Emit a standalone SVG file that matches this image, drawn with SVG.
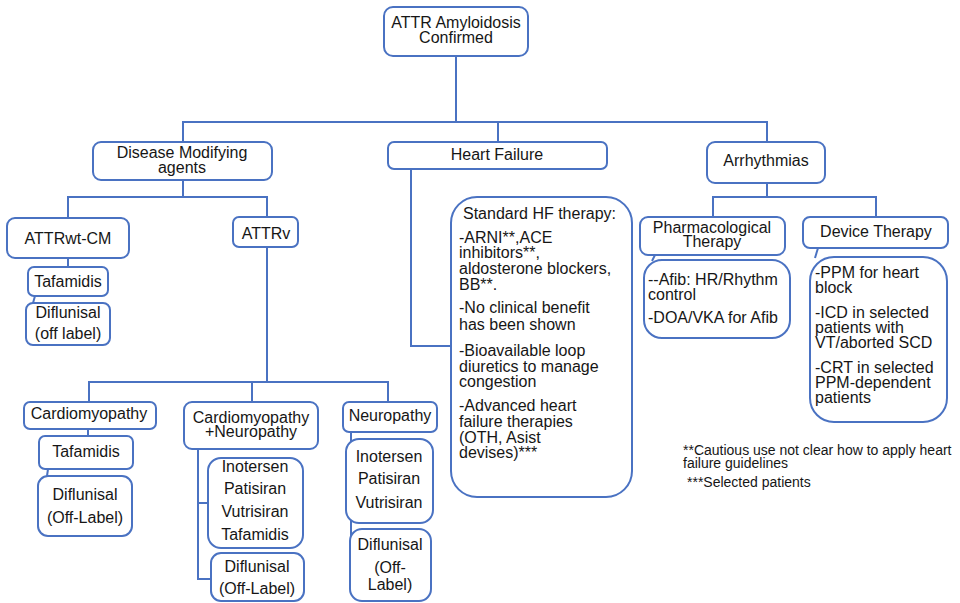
<svg xmlns="http://www.w3.org/2000/svg" width="960" height="603" viewBox="0 0 960 603">
  <style>
    .box { fill: #ffffff; stroke: #4a72c2; stroke-width: 2; }
    .link { fill: none; stroke: #4a72c2; stroke-width: 2; }
    text { font-family: "Liberation Sans", Arial, sans-serif; font-size: 16px; fill: #161616; }
    .c { text-anchor: middle; }
    .note { font-size: 14px; }
  </style>
  <rect width="960" height="603" fill="#ffffff"/>

  <!-- connectors -->
  <g id="connectors">
    <polyline class="link" points="456,56 456,122"/>
    <polyline class="link" points="183,142 183,122 767,122 767,142"/>
    <line class="link" x1="498" y1="122" x2="498" y2="142"/>
    <!-- disease modifying branch -->
    <line class="link" x1="183" y1="180" x2="183" y2="197"/>
    <polyline class="link" points="68,218 68,197 267,197 267,217"/>
    <line class="link" x1="68" y1="258" x2="68" y2="267"/>
    <line class="link" x1="35" y1="296" x2="33" y2="303"/>
    <!-- ATTRv branch -->
    <line class="link" x1="267" y1="247" x2="267" y2="382"/>
    <polyline class="link" points="89,402 89,382 388,382 388,402"/>
    <line class="link" x1="252" y1="382" x2="252" y2="402"/>
    <line class="link" x1="88" y1="429" x2="88" y2="436"/>
    <line class="link" x1="48" y1="469" x2="47" y2="476"/>
    <polyline class="link" points="198,449 198,579 212,579"/>
    <line class="link" x1="198" y1="503" x2="209" y2="503"/>
    <line class="link" x1="351" y1="431" x2="351" y2="565"/>
    <!-- heart failure branch -->
    <polyline class="link" points="411,169 411,346 452,346"/>
    <!-- arrhythmia branch -->
    <line class="link" x1="767" y1="183" x2="767" y2="197"/>
    <polyline class="link" points="713,217 713,197 876,197 876,217"/>
    <line class="link" x1="655" y1="255" x2="652" y2="261"/>
    <line class="link" x1="818" y1="248" x2="815" y2="258"/>
  </g>

  <g id="root">
    <rect class="box" x="384" y="7" width="144" height="49" rx="9"/>
    <text class="c" x="456" y="28">ATTR Amyloidosis</text>
    <text class="c" x="456" y="43">Confirmed</text>
  </g>

  <g id="disease-modifying">
    <rect class="box" x="93" y="142" width="179" height="38" rx="8"/>
    <text class="c" x="182" y="158">Disease Modifying</text>
    <text class="c" x="182" y="173">agents</text>
  </g>

  <g id="heart-failure">
    <rect class="box" x="388" y="142" width="219" height="27" rx="6"/>
    <text class="c" x="497" y="160">Heart Failure</text>
  </g>

  <g id="arrhythmias">
    <rect class="box" x="707" y="142" width="118" height="41" rx="8"/>
    <text class="c" x="766" y="166">Arrhythmias</text>
  </g>

  <g id="attrwt-cm">
    <rect class="box" x="7" y="218" width="122" height="40" rx="8"/>
    <text class="c" x="68" y="244">ATTRwt-CM</text>
  </g>

  <g id="attrwt-tafamidis">
    <rect class="box" x="28" y="267" width="80" height="29" rx="6"/>
    <text class="c" x="68" y="287">Tafamidis</text>
  </g>

  <g id="attrwt-diflunisal">
    <rect class="box" x="26" y="303" width="84" height="42" rx="7"/>
    <text class="c" x="68" y="318">Diflunisal</text>
    <text class="c" x="68" y="339">(off label)</text>
  </g>

  <g id="attrv">
    <rect class="box" x="233" y="217" width="65" height="30" rx="6"/>
    <text class="c" x="266" y="239">ATTRv</text>
  </g>

  <g id="cardiomyopathy">
    <rect class="box" x="24" y="402" width="132" height="27" rx="6"/>
    <text class="c" x="89" y="419">Cardiomyopathy</text>
  </g>

  <g id="cm-tafamidis">
    <rect class="box" x="39" y="436" width="94" height="33" rx="6"/>
    <text class="c" x="86" y="457">Tafamidis</text>
  </g>

  <g id="cm-diflunisal">
    <rect class="box" x="38" y="476" width="94" height="60" rx="10"/>
    <text class="c" x="85" y="500">Diflunisal</text>
    <text class="c" x="85" y="523">(Off-Label)</text>
  </g>

  <g id="cardio-neuropathy">
    <rect class="box" x="184" y="402" width="134" height="47" rx="8"/>
    <text class="c" x="251" y="423">Cardiomyopathy</text>
    <text class="c" x="251" y="437">+Neuropathy</text>
  </g>

  <g id="cn-agents">
    <rect class="box" x="208" y="458" width="95" height="90" rx="13"/>
    <text class="c" x="255" y="472">Inotersen</text>
    <text class="c" x="255" y="494">Patisiran</text>
    <text class="c" x="255" y="517">Vutrisiran</text>
    <text class="c" x="255" y="540">Tafamidis</text>
  </g>

  <g id="cn-diflunisal">
    <rect class="box" x="211" y="553" width="93" height="48" rx="10"/>
    <text class="c" x="257" y="572">Diflunisal</text>
    <text class="c" x="257" y="594">(Off-Label)</text>
  </g>

  <g id="neuropathy">
    <rect class="box" x="343" y="402" width="94" height="30" rx="6"/>
    <text class="c" x="390" y="421">Neuropathy</text>
  </g>

  <g id="np-agents">
    <rect class="box" x="346" y="439" width="87" height="84" rx="13"/>
    <text class="c" x="389" y="462">Inotersen</text>
    <text class="c" x="389" y="484">Patisiran</text>
    <text class="c" x="389" y="508">Vutrisiran</text>
  </g>

  <g id="np-diflunisal">
    <rect class="box" x="350" y="529" width="81" height="72" rx="12"/>
    <text class="c" x="390" y="550">Diflunisal</text>
    <text class="c" x="390" y="573">(Off-</text>
    <text class="c" x="390" y="590">Label)</text>
  </g>

  <g id="hf-therapy">
    <rect class="box" x="451" y="197" width="181" height="300" rx="26"/>
    <text x="463" y="219">Standard HF therapy:</text>
    <text x="459" y="243">-ARNI**,ACE</text>
    <text x="459" y="258">inhibitors**,</text>
    <text x="459" y="274">aldosterone blockers,</text>
    <text x="459" y="290">BB**.</text>
    <text x="459" y="313">-No clinical benefit</text>
    <text x="459" y="330">has been shown</text>
    <text x="459" y="356">-Bioavailable loop</text>
    <text x="459" y="372">diuretics to manage</text>
    <text x="459" y="387">congestion</text>
    <text x="459" y="411">-Advanced heart</text>
    <text x="459" y="427">failure therapies</text>
    <text x="459" y="443">(OTH, Asist</text>
    <text x="459" y="458">devises)***</text>
  </g>

  <g id="pharmacological">
    <rect class="box" x="640" y="217" width="145" height="38" rx="8"/>
    <text class="c" x="712" y="233">Pharmacological</text>
    <text class="c" x="712" y="247">Therapy</text>
  </g>

  <g id="pharm-list">
    <rect class="box" x="644" y="260" width="146" height="78" rx="18"/>
    <text x="648" y="285">--Afib: HR/Rhythm</text>
    <text x="648" y="300">control</text>
    <text x="648" y="323">-DOA/VKA for Afib</text>
  </g>

  <g id="device">
    <rect class="box" x="803" y="217" width="145" height="31" rx="7"/>
    <text class="c" x="876" y="237">Device Therapy</text>
  </g>

  <g id="device-list">
    <rect class="box" x="810" y="257" width="137" height="165" rx="24"/>
    <text x="815" y="278">-PPM for heart</text>
    <text x="815" y="293">block</text>
    <text x="815" y="318">-ICD in selected</text>
    <text x="815" y="333">patients with</text>
    <text x="815" y="348">VT/aborted SCD</text>
    <text x="815" y="373">-CRT in selected</text>
    <text x="815" y="388">PPM-dependent</text>
    <text x="815" y="403">patients</text>
  </g>

  <g id="footnotes">
    <text class="note" x="683" y="455">**Cautious use not clear how to apply heart</text>
    <text class="note" x="683" y="468">failure guidelines</text>
    <text class="note" x="687" y="487">***Selected patients</text>
  </g>
</svg>
